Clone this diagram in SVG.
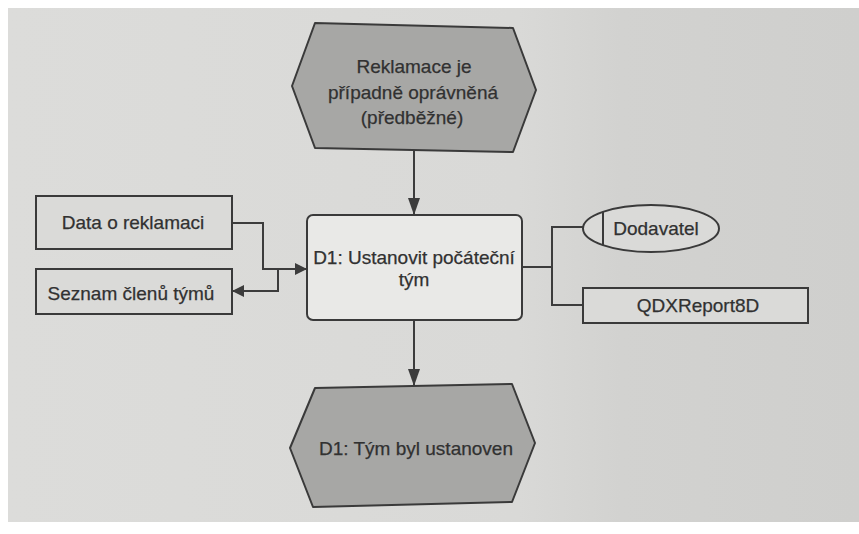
<svg xmlns="http://www.w3.org/2000/svg" width="859" height="534" viewBox="0 0 859 534">
  <style>
    .lbl { font-family: "Liberation Sans", Arial, sans-serif; font-size: 19px; fill: #313131; text-anchor: middle; stroke: #313131; stroke-width: 0.25; }
    .event { fill: #a7a7a5; stroke: #3a3a3a; stroke-width: 2; stroke-linejoin: round; }
    .func { fill: #e9e9e7; stroke: #3a3a3a; stroke-width: 2; }
    .data { fill: #dadad8; stroke: #3a3a3a; stroke-width: 2; }
    .link { fill: none; stroke: #3c3c3c; stroke-width: 2; }
  </style>
  <defs>
    <linearGradient id="paper" x1="0" y1="0" x2="1" y2="0">
      <stop offset="0" stop-color="#dcdcda"/>
      <stop offset="0.6" stop-color="#d9d9d7"/>
      <stop offset="0.72" stop-color="#d2d2d0"/>
      <stop offset="1" stop-color="#cfcfcd"/>
    </linearGradient>
    <marker id="arrow" viewBox="0 0 12 12" refX="12" refY="6" markerWidth="12" markerHeight="12" markerUnits="userSpaceOnUse" orient="auto">
      <path d="M0,0 L12,6 L0,12 Z" fill="#3c3c3c"/>
    </marker>
    <marker id="arrowLong" viewBox="0 0 17 12" refX="17" refY="6" markerWidth="17" markerHeight="12" markerUnits="userSpaceOnUse" orient="auto">
      <path d="M0,0 L17,6 L0,12 Z" fill="#3c3c3c"/>
    </marker>
  </defs>

  <!-- page -->
  <rect x="0" y="0" width="859" height="534" fill="#ffffff"/>
  <rect x="8" y="8" width="851" height="514" fill="url(#paper)"/>

  <!-- connectors -->
  <g id="connectors">
    <path class="link" d="M414,150 L414,215" marker-end="url(#arrowLong)"/>
    <path class="link" d="M232,223 L263,223 L263,269 L307,269" marker-end="url(#arrow)"/>
    <path class="link" d="M278,269 L278,291 L232,291" marker-end="url(#arrow)"/>
    <path class="link" d="M522,267 L552,267"/>
    <path class="link" d="M583,227 L552,227 L552,305 L583,305"/>
    <path class="link" d="M414,320 L414,386" marker-end="url(#arrowLong)"/>
  </g>

  <!-- start event -->
  <g id="event-start">
    <polygon class="event" points="315,23 513,28 536,90 513,152 315,148 292,86"/>
    <text class="lbl" x="414" y="73">Reklamace je</text>
    <text class="lbl" x="413" y="99">případně oprávněná</text>
    <text class="lbl" x="412" y="124">(předběžné)</text>
  </g>

  <!-- function -->
  <g id="function-d1">
    <rect class="func" x="307" y="215" width="215" height="105" rx="6"/>
    <text class="lbl" x="414" y="264">D1: Ustanovit počáteční</text>
    <text class="lbl" x="414" y="286">tým</text>
  </g>

  <!-- input data -->
  <g id="data-reklamace">
    <rect class="data" x="36" y="196" width="196" height="53"/>
    <text class="lbl" x="133" y="229">Data o reklamaci</text>
  </g>

  <!-- output data -->
  <g id="data-seznam">
    <rect class="data" x="36" y="269" width="196" height="45"/>
    <text class="lbl" x="131" y="300">Seznam členů týmů</text>
  </g>

  <!-- organisational unit -->
  <g id="org-dodavatel">
    <ellipse class="data" cx="651" cy="228.5" rx="68" ry="23.5"/>
    <line x1="603" y1="212" x2="603" y2="245" stroke="#3a3a3a" stroke-width="2"/>
    <text class="lbl" x="656" y="235">Dodavatel</text>
  </g>

  <!-- report -->
  <g id="report-qdx">
    <rect class="data" x="583" y="288" width="225" height="35"/>
    <text class="lbl" x="698" y="312">QDXReport8D</text>
  </g>

  <!-- end event -->
  <g id="event-end">
    <polygon class="event" points="315,388 512,384 535,443 512,502 313,507 290,448"/>
    <text class="lbl" x="416" y="455">D1: Tým byl ustanoven</text>
  </g>
</svg>
